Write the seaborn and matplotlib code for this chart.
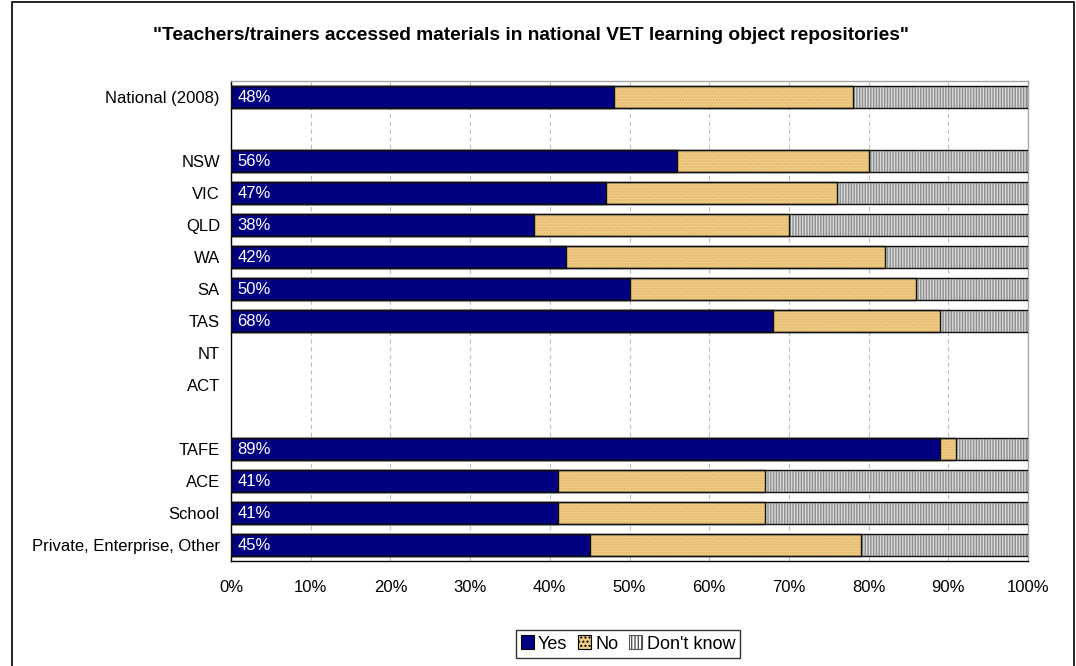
import numpy as np
import pandas as pd
import matplotlib
matplotlib.use("Agg")
import matplotlib.pyplot as plt
from matplotlib.patches import Rectangle
from matplotlib.ticker import PercentFormatter
import seaborn as sns

categories = ["National (2008)", " ", "NSW", "VIC", "QLD", "WA", "SA", "TAS", "NT", "ACT", "  ",
              "TAFE", "ACE", "School", "Private, Enterprise, Other"]
yes = [48, np.nan, 56, 47, 38, 42, 50, 68, np.nan, np.nan, np.nan, 89, 41, 41, 45]
no = [30, np.nan, 24, 29, 32, 40, 36, 21, np.nan, np.nan, np.nan, 2, 26, 26, 34]
dont_know = [22, np.nan, 20, 24, 30, 18, 14, 11, np.nan, np.nan, np.nan, 9, 33, 33, 21]
series_names = ["Yes", "No", "Don't know"]
x_ticks = [0, 10, 20, 30, 40, 50, 60, 70, 80, 90, 100]
title = "\"Teachers/trainers accessed materials in national VET learning object repositories\""

df = pd.DataFrame({"cat": categories, "Yes": yes, "No": no, "DK": dont_know})
df["c_yes"] = df["Yes"]
df["c_no"] = df["Yes"] + df["No"]
df["c_dk"] = df["Yes"] + df["No"] + df["DK"]
plot_df = df.dropna()

sns.set_style("white")
plt.rcParams["font.family"] = ["Liberation Sans", "DejaVu Sans"]
plt.rcParams["hatch.linewidth"] = 1.0
plt.rcParams["text.color"] = "black"
plt.rcParams["xtick.color"] = "black"
plt.rcParams["ytick.color"] = "black"

fig = plt.figure(figsize=(10.76, 6.66), dpi=100)
ax = fig.add_axes([231/1076, 1 - 561/666, (1028-231)/1076, (561-81)/666])

YES_C, NO_C, DK_C = "#000080", "#F2CF85", "#DADADA"
layers = [("c_dk", DK_C, "|" * 6, "#8E8E8E"),
          ("c_no", NO_C, "." * 6, "#DDB56A"),
          ("c_yes", YES_C, None, None)]
for col, color, hatch, hcol in layers:
    sns.barplot(data=plot_df, x=col, y="cat", order=categories, orient="h",
                color=color, saturation=1, width=0.66, linewidth=0,
                edgecolor=hcol if hcol else color, ax=ax, zorder=2)
    cont = ax.containers[-1]
    for p in cont.patches:
        if hatch:
            p.set_hatch(hatch)
        ax.add_patch(Rectangle(p.get_xy(), p.get_width(), p.get_height(),
                               fill=False, edgecolor="#111111", linewidth=1.0, zorder=3))

# value labels on Yes bars
yes_cont = ax.containers[-1]
yes_vals = plot_df["Yes"].tolist()
for p, v in zip(yes_cont.patches, yes_vals):
    ax.text(p.get_x() + 0.8, p.get_y() + p.get_height() / 2 + 0.03, f"{v:.0f}%",
            color="white", fontsize=12, va="center", ha="left", zorder=4)

ax.set_xlim(0, 100)
ax.set_ylim(len(categories) - 0.5, -0.5)
ax.set_xticks(x_ticks)
ax.xaxis.set_major_formatter(PercentFormatter(decimals=0))
ax.set_xlabel("")
ax.set_ylabel("")
ax.set_yticks(range(len(categories)))
ax.set_yticklabels(categories, fontsize=12)
ax.set_yticks(np.arange(-0.5, len(categories), 1), minor=True)
ax.tick_params(axis="y", which="major", length=0, pad=8, labelcolor="black")
ax.tick_params(axis="y", which="minor", length=5, width=1, color="black", direction="out")
ax.tick_params(axis="x", which="major", length=5, width=1, color="black", direction="out",
               labelsize=12, pad=9, labelcolor="black")
for xv in x_ticks[1:-1]:
    ax.axvline(xv, color="#BFBFBF", linestyle=(0, (4, 3)), linewidth=0.8, zorder=1)

for s in ["left", "bottom"]:
    ax.spines[s].set_color("black")
    ax.spines[s].set_linewidth(1.0)
for s in ["top", "right"]:
    ax.spines[s].set_color("#A6A6A6")
    ax.spines[s].set_linewidth(1.0)
    ax.spines[s].set_visible(True)

fig.text(531/1076, 1 - 35/666, title, ha="center", va="center", fontsize=13.8,
         fontweight="bold", color="black")

handles = [Rectangle((0, 0), 1, 1, facecolor=YES_C, edgecolor="black", linewidth=0.8),
           Rectangle((0, 0), 1, 1, facecolor=NO_C, edgecolor="black", linewidth=0.8,
                     hatch="." * 4),
           Rectangle((0, 0), 1, 1, facecolor="white", edgecolor="#555555", linewidth=0.8,
                     hatch="|" * 5)]
leg = fig.legend(handles, series_names, loc="center", bbox_to_anchor=(628/1076, 1 - 644/666),
                 ncol=3, frameon=True, fontsize=13, handlelength=0.7, handleheight=0.8,
                 handletextpad=0.25, columnspacing=0.6, borderpad=0.3, fancybox=False)
leg.get_frame().set_edgecolor("black")
leg.get_frame().set_linewidth(1.0)
for t in leg.get_texts():
    t.set_color("black")

fig.patches.append(Rectangle((12/1076, -0.01), (1074-12)/1076, 1 - 2/666 + 0.01,
                             transform=fig.transFigure, fill=False, edgecolor="black",
                             linewidth=1.2))

fig.savefig("out.png", dpi=100, facecolor="white")
